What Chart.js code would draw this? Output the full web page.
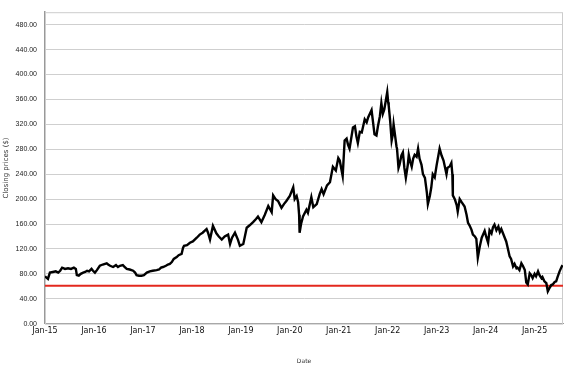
<!DOCTYPE html>
<html>
<head>
<meta charset="utf-8">
<script src="https://cdn.jsdelivr.net/npm/chart.js@4.4.1/dist/chart.umd.min.js"></script>
<style>
  body { margin: 0; background: #fff; }
  #wrap { width: 577px; height: 367px; }
</style>
</head>
<body>
<div id="wrap"><canvas id="priceChart" width="577" height="367"></canvas></div>
<script>
// Dates as decimal years
const years = [
  2015.00, 2015.03, 2015.06, 2015.10, 2015.16, 2015.22, 2015.27, 2015.31, 2015.35, 2015.41,
  2015.47, 2015.53, 2015.59, 2015.63, 2015.65, 2015.69, 2015.73, 2015.78, 2015.82, 2015.86,
  2015.90, 2015.95, 2015.98, 2016.02, 2016.06, 2016.12, 2016.18, 2016.26, 2016.29, 2016.33,
  2016.39, 2016.45, 2016.49, 2016.53, 2016.59, 2016.63, 2016.67, 2016.73, 2016.80, 2016.84,
  2016.87, 2016.92, 2016.97, 2017.02, 2017.08, 2017.14, 2017.20, 2017.28, 2017.33, 2017.37,
  2017.41, 2017.47, 2017.51, 2017.55, 2017.59, 2017.63, 2017.69, 2017.73, 2017.79, 2017.82,
  2017.84, 2017.90, 2017.96, 2018.02, 2018.10, 2018.16, 2018.22, 2018.30, 2018.33, 2018.37,
  2018.43, 2018.50, 2018.55, 2018.61, 2018.67, 2018.74, 2018.78, 2018.82, 2018.88, 2018.94,
  2018.98, 2019.05, 2019.12, 2019.18, 2019.25, 2019.31, 2019.35, 2019.42, 2019.49, 2019.56,
  2019.63, 2019.66, 2019.71, 2019.76, 2019.83, 2019.88, 2019.93, 2020.00, 2020.07, 2020.10,
  2020.14, 2020.17, 2020.19, 2020.20, 2020.23, 2020.27, 2020.34, 2020.37, 2020.44, 2020.48,
  2020.55, 2020.61, 2020.65, 2020.69, 2020.76, 2020.82, 2020.88, 2020.94, 2020.99, 2021.02,
  2021.08, 2021.12, 2021.16, 2021.19, 2021.22, 2021.29, 2021.33, 2021.36, 2021.39, 2021.43,
  2021.47, 2021.53, 2021.57, 2021.60, 2021.67, 2021.69, 2021.73, 2021.77, 2021.80, 2021.84,
  2021.87, 2021.90, 2021.93, 2021.99, 2022.01, 2022.02, 2022.05, 2022.08, 2022.10, 2022.12,
  2022.18, 2022.19, 2022.22, 2022.24, 2022.28, 2022.31, 2022.34, 2022.37, 2022.41, 2022.43,
  2022.46, 2022.49, 2022.52, 2022.55, 2022.59, 2022.62, 2022.65, 2022.69, 2022.72, 2022.76,
  2022.80, 2022.82, 2022.86, 2022.89, 2022.92, 2022.96, 2023.00, 2023.06, 2023.10, 2023.14,
  2023.20, 2023.22, 2023.27, 2023.30, 2023.32, 2023.33, 2023.37, 2023.41, 2023.43, 2023.47,
  2023.51, 2023.57, 2023.61, 2023.64, 2023.67, 2023.71, 2023.74, 2023.78, 2023.81, 2023.84,
  2023.88, 2023.92, 2023.98, 2024.01, 2024.05, 2024.08, 2024.12, 2024.15, 2024.18, 2024.22,
  2024.26, 2024.29, 2024.32, 2024.35, 2024.39, 2024.42, 2024.45, 2024.49, 2024.52, 2024.56,
  2024.59, 2024.63, 2024.65, 2024.69, 2024.73, 2024.76, 2024.80, 2024.83, 2024.86, 2024.90,
  2024.93, 2024.96, 2025.00, 2025.03, 2025.07, 2025.10, 2025.14, 2025.16, 2025.20, 2025.24,
  2025.27, 2025.31, 2025.34, 2025.37, 2025.41, 2025.44, 2025.47, 2025.51, 2025.55, 2025.57
];

// Closing prices ($)
const prices = [
  76, 74, 72, 82, 83, 84, 82, 85, 90, 88,
  89, 88, 90, 88, 78, 77, 80, 82, 83, 85,
  84, 88, 85, 82, 86, 93, 95, 97, 95, 93,
  91, 94, 91, 93, 94, 91, 88, 87, 85, 82,
  78, 77, 77, 78, 82, 84, 85, 86, 87, 90,
  91, 93, 95, 96, 99, 104, 107, 110, 112, 122,
  125, 126, 130, 132, 138, 143, 146, 152, 146, 135,
  157, 145, 140, 135, 140, 143, 128, 138, 146, 135,
  125, 128, 154, 158, 163, 168, 172, 163, 175, 189,
  179, 206, 200, 197, 186, 192, 197, 205, 219, 200,
  205, 195, 175, 146, 160, 172, 183, 178, 203, 187,
  192, 208, 216, 208, 222, 227, 252, 246, 266, 262,
  237, 294, 297, 287, 281, 315, 317, 301, 290, 308,
  307, 328, 323, 331, 343, 330, 304, 302, 317, 333,
  354, 337, 344, 372, 355, 350, 325, 294, 302, 320,
  284, 281, 250, 255, 270, 275, 250, 234, 255, 271,
  260, 252, 265, 271, 268, 281, 265, 255, 240, 234,
  210, 192, 205, 219, 240, 235, 255, 281, 270, 262,
  240, 250, 253, 258, 240, 206, 200, 190, 180, 200,
  195, 188, 175, 162, 158, 151, 143, 140, 136, 106,
  124, 138, 149, 140, 130, 150, 145, 155, 159, 150,
  156, 147, 152, 146, 138, 132, 122, 108, 104, 92,
  96, 89, 90, 86, 97, 93, 86, 66, 63, 81,
  78, 73, 80, 76, 84, 78, 73, 75, 68, 65,
  52, 58, 62, 63, 67, 68, 75, 84, 91, 94
];

const refLevel = 61;   // red horizontal line
const xStart = 2015.0;
const xEnd = 2025.58;
const yTicks = [0, 40, 80, 120, 160, 200, 240, 280, 320, 360, 400, 440, 480];
const xTickYears = [2015, 2016, 2017, 2018, 2019, 2020, 2021, 2022, 2023, 2024, 2025];
const xTickLabels = ['Jan-15', 'Jan-16', 'Jan-17', 'Jan-18', 'Jan-19', 'Jan-20',
                     'Jan-21', 'Jan-22', 'Jan-23', 'Jan-24', 'Jan-25'];

const pricePoints = years.map((t, i) => ({ x: t, y: prices[i] }));
const refPoints = [{ x: xStart, y: refLevel }, { x: xEnd, y: refLevel }];

// light frame round the plot area
const frame = {
  id: 'frame',
  beforeDatasetsDraw(chart) {
    const a = chart.chartArea, ctx = chart.ctx;
    ctx.save();
    ctx.strokeStyle = '#cccccc';
    ctx.lineWidth = 1;
    ctx.strokeRect(a.left + 0.5, a.top + 0.5, a.right - a.left - 1, a.bottom - a.top);
    ctx.restore();
  }
};

const ctx = document.getElementById('priceChart').getContext('2d');
new Chart(ctx, {
  type: 'line',
  data: {
    datasets: [
      {
        label: 'Closing price',
        data: pricePoints,
        borderColor: '#000000',
        borderWidth: 2.4,
        pointRadius: 0,
        tension: 0,
        order: 1
      },
      {
        label: 'Level',
        data: refPoints,
        borderColor: '#e3281e',
        borderWidth: 2,
        pointRadius: 0,
        order: 2
      }
    ]
  },
  plugins: [frame],
  options: {
    responsive: false,
    animation: false,
    layout: { padding: { top: 3, right: 14, left: 0, bottom: 0 } },
    plugins: {
      legend: { display: false },
      tooltip: { enabled: false }
    },
    scales: {
      x: {
        type: 'linear',
        min: xStart,
        max: xEnd,
        afterFit: s => { s.height = 43.3; },
        afterBuildTicks: s => { s.ticks = xTickYears.map(v => ({ value: v })); },
        grid: { display: false, drawTicks: false },
        border: { color: '#999999', width: 1 },
        ticks: {
          autoSkip: false,
          maxRotation: 0,
          padding: 2,
          color: '#111',
          font: { family: 'DejaVu Sans', size: 8 },
          callback: (v) => xTickLabels[xTickYears.indexOf(v)]
        },
        title: {
          display: true,
          text: 'Date',
          color: '#333',
          font: { family: 'DejaVu Sans', size: 6 },
          padding: { top: 0, bottom: 2 }
        }
      },
      y: {
        min: 0,
        max: 500,
        afterFit: s => { s.width = 45; },
        afterBuildTicks: s => { s.ticks = yTicks.map(v => ({ value: v })); },
        grid: { color: '#cfcfcf', lineWidth: 1, drawTicks: false },
        border: { color: '#999999', width: 1.5 },
        ticks: {
          padding: 8,
          color: '#222',
          font: { family: 'Liberation Sans', size: 7 },
          callback: (v) => v.toFixed(2)
        },
        title: {
          display: true,
          text: 'Closing prices ($)',
          color: '#333',
          font: { family: 'DejaVu Sans', size: 7 },
          padding: { top: 2, bottom: 0 }
        }
      }
    }
  }
});
</script>
</body>
</html>
